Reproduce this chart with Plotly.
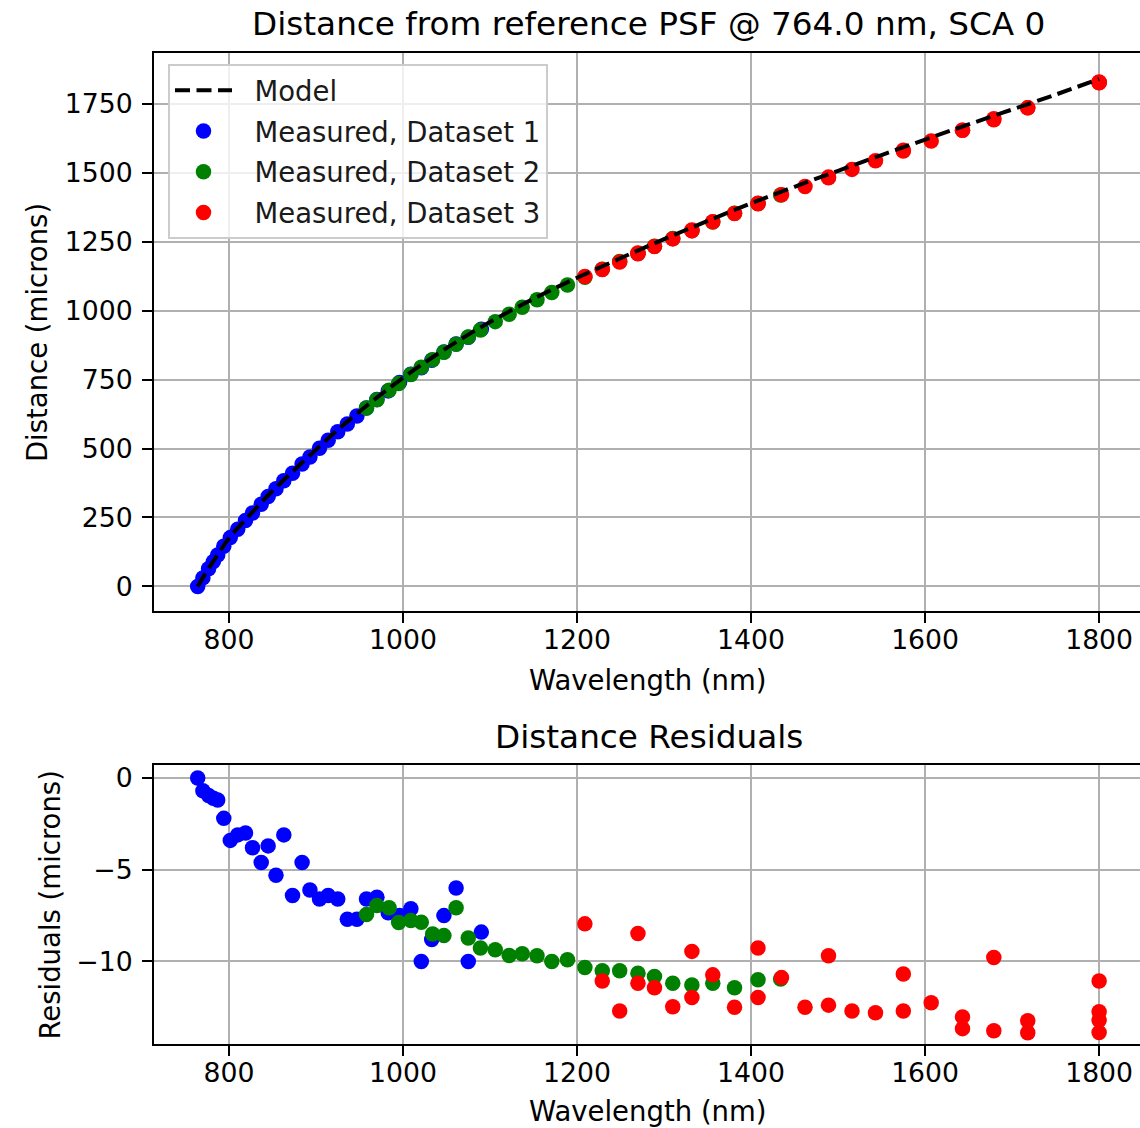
import plotly.graph_objects as go

# ---------------- data ----------------
model_wl = [764, 772, 780, 790, 800, 825, 850, 875, 900, 925, 950, 975, 1000, 1025,
            1050, 1075, 1100, 1125, 1150, 1175, 1200, 1250, 1300, 1350, 1400, 1450,
            1500, 1550, 1600, 1650, 1700, 1750, 1800]
model_dist = [0, 42, 82, 130, 175, 263, 347, 422, 496, 568, 634, 697, 756, 812,
              864, 913, 959, 1002, 1043, 1082, 1119, 1190, 1259, 1325, 1389, 1449,
              1507, 1564, 1620, 1675, 1729, 1783, 1840]

ds1_wl = [764, 770, 776.5, 782, 787, 794, 801.5, 810, 819, 827, 837, 845, 854, 863,
          873, 884, 893, 904, 914, 925, 936, 947, 958, 970, 983, 996, 1009, 1021,
          1033, 1047, 1061, 1075, 1090]
ds1_dist = [0, 31, 64, 90, 114, 146, 177, 207, 239, 266, 298, 326, 354, 383,
            410, 444, 469, 501, 530, 561, 589, 618, 647, 678, 709, 739, 769, 793,
            820, 850, 879, 903, 932]
ds1_res = [0.0, -0.7, -0.95, -1.1, -1.2, -2.2, -3.4, -3.1, -3.0, -3.8, -4.6, -3.7, -5.3, -3.1,
           -6.4, -4.6, -6.1, -6.6, -6.4, -6.6, -7.7, -7.7, -6.6, -6.5, -7.35, -7.5, -7.13, -10.0,
           -8.8, -7.5, -6.0, -10.0, -8.4]

ds2_wl = [958, 970, 984, 995, 1009, 1021, 1034, 1047, 1061, 1075, 1089, 1106, 1122, 1137,
          1154, 1171, 1189, 1209, 1229, 1249, 1270, 1289, 1310, 1332, 1356, 1381, 1408, 1434]
ds2_dist = [647, 677, 711, 736, 768, 795, 822, 849, 878, 904, 930, 960, 987, 1012,
            1039, 1066, 1093, 1121, 1150, 1178, 1207, 1233, 1261, 1290, 1321, 1353, 1388, 1419]
ds2_res = [-7.44, -6.95, -7.07, -7.88, -7.77, -7.86, -8.5, -8.59, -7.07, -8.72, -9.27, -9.36, -9.67, -9.58,
           -9.69, -10.0, -9.91, -10.33, -10.51, -10.51, -10.64, -10.82, -11.19, -11.28, -11.19, -11.43,
           -11.0, -10.95]

ds3_wl = [1209, 1229, 1249, 1270, 1270, 1289, 1310, 1332, 1332, 1356, 1381, 1408, 1408, 1435,
          1462, 1489, 1489, 1516, 1543, 1575, 1575, 1607, 1643, 1643, 1679, 1679, 1718, 1718,
          1800, 1800, 1800, 1800]
ds3_dist = [1124, 1149, 1176, 1209, 1206, 1232, 1260, 1292, 1289, 1322, 1352, 1389, 1387, 1420,
            1450, 1484, 1482, 1512, 1543, 1581, 1579, 1615, 1654, 1654, 1696, 1692, 1735, 1735,
            1829, 1827, 1827, 1826]
ds3_res = [-7.95, -11.06, -12.70, -8.48, -11.19, -11.43, -12.47, -9.45, -11.96, -10.73, -12.5, -9.27,
           -11.96, -10.88, -12.5, -9.69, -12.38, -12.70, -12.80, -10.68, -12.70, -12.25, -13.02, -13.66,
           -9.78, -13.78, -13.23, -13.89, -11.06, -12.74, -13.2, -13.87]

x_ticks = [800, 1000, 1200, 1400, 1600, 1800]
y_ticks_top = [0, 250, 500, 750, 1000, 1250, 1500, 1750]
y_ticks_bot = [0, -5, -10]

title_top = "Distance from reference PSF @ 764.0 nm, SCA 0"
title_bot = "Distance Residuals"
xlabel = "Wavelength (nm)"
ylabel_top = "Distance (microns)"
ylabel_bot = "Residuals (microns)"
legend_names = ["Model", "Measured, Dataset 1", "Measured, Dataset 2", "Measured, Dataset 3"]

# ---------------- figure ----------------
W, H = 1140, 1128
L = 154
FONT = "DejaVu Sans"
FS = 27.5
TFS = 26.7
c1, c2, c3 = "#0000ff", "#008000", "#ff0000"
msize = 15.5
PAD = "\u00a0\u00a0"

fig = go.Figure()

for wl, d, c, name, rank in [(ds1_wl, ds1_dist, c1, legend_names[1], 2),
                             (ds2_wl, ds2_dist, c2, legend_names[2], 3),
                             (ds3_wl, ds3_dist, c3, legend_names[3], 4)]:
    fig.add_trace(go.Scatter(x=wl, y=d, mode="markers", name=PAD + name, legendrank=rank,
                             legendgroup=name,
                             marker=dict(color=c, size=msize, line=dict(width=0)),
                             xaxis="x", yaxis="y"))

fig.add_trace(go.Scatter(x=model_wl, y=model_dist, mode="lines", name=PAD + legend_names[0],
                         legendrank=1, legendgroup="model",
                         line=dict(color="black", width=4, dash="15px,6.5px", shape="spline"),
                         xaxis="x", yaxis="y"))

for wl, r, c in [(ds1_wl, ds1_res, c1), (ds2_wl, ds2_res, c2), (ds3_wl, ds3_res, c3)]:
    fig.add_trace(go.Scatter(x=wl, y=r, mode="markers", showlegend=False,
                             marker=dict(color=c, size=msize, line=dict(width=0)),
                             xaxis="x2", yaxis="y2"))


def py(px):
    return 1 - px / H


def pxx(px):
    return (px - L) / (W - L)


axis_common = dict(showgrid=True, gridcolor="#b0b0b0", gridwidth=2,
                   showline=True, linecolor="black", linewidth=2,
                   ticks="outside", ticklen=10, tickwidth=2, tickcolor="black",
                   zeroline=False, tickfont=dict(family=FONT, size=TFS, color="black"))
xax = dict(axis_common, ticklabelstandoff=-6, mirror=True)
yax = dict(axis_common, ticklabelstandoff=4, mirror=False)

xr = [713.8, 1847.0]
fig.update_layout(
    width=W, height=H,
    margin=dict(l=L, r=0, t=0, b=0),
    paper_bgcolor="white", plot_bgcolor="white",
    font=dict(family=FONT, size=FS, color="black"),
    xaxis=dict(domain=[0, 1], range=xr, tickvals=x_ticks, anchor="y", **xax),
    yaxis=dict(domain=[py(610), py(50)], range=[-90.4, 1934.4], tickvals=y_ticks_top,
               anchor="x", **yax),
    xaxis2=dict(domain=[0, 1], range=xr, tickvals=x_ticks, anchor="y2", **xax),
    yaxis2=dict(domain=[py(1044), py(764)], range=[-14.51, 0.71], tickvals=y_ticks_bot,
                anchor="x2", **yax),
    showlegend=True,
    legend=dict(x=pxx(168), y=py(61), xanchor="left", yanchor="top",
                bgcolor="rgba(255,255,255,0.8)", bordercolor="#cccccc", borderwidth=2,
                font=dict(family=FONT, size=FS, color="#1a1a1a"),
                itemwidth=57, tracegroupgap=2),
)

ann = [
    dict(text=title_top, x=pxx(648), y=py(21), size=32.7, angle=0),
    dict(text=title_bot, x=pxx(649), y=py(736), size=32.7, angle=0),
    dict(text=xlabel, x=pxx(648), y=py(679), size=FS, angle=0),
    dict(text=xlabel, x=pxx(648), y=py(1111), size=FS, angle=0),
    dict(text=ylabel_top, x=pxx(37), y=py(331), size=FS, angle=-90),
    dict(text=ylabel_bot, x=pxx(50), y=py(904), size=FS, angle=-90),
]
for a in ann:
    fig.add_annotation(text=a["text"], x=a["x"], y=a["y"], xref="paper", yref="paper",
                       xanchor="center", yanchor="middle", showarrow=False, textangle=a["angle"],
                       font=dict(family=FONT, size=a["size"], color="black"))

fig.write_html("out.html", config={"displayModeBar": False},
               post_script="document.body.style.margin='0';document.body.style.overflow='hidden';")
